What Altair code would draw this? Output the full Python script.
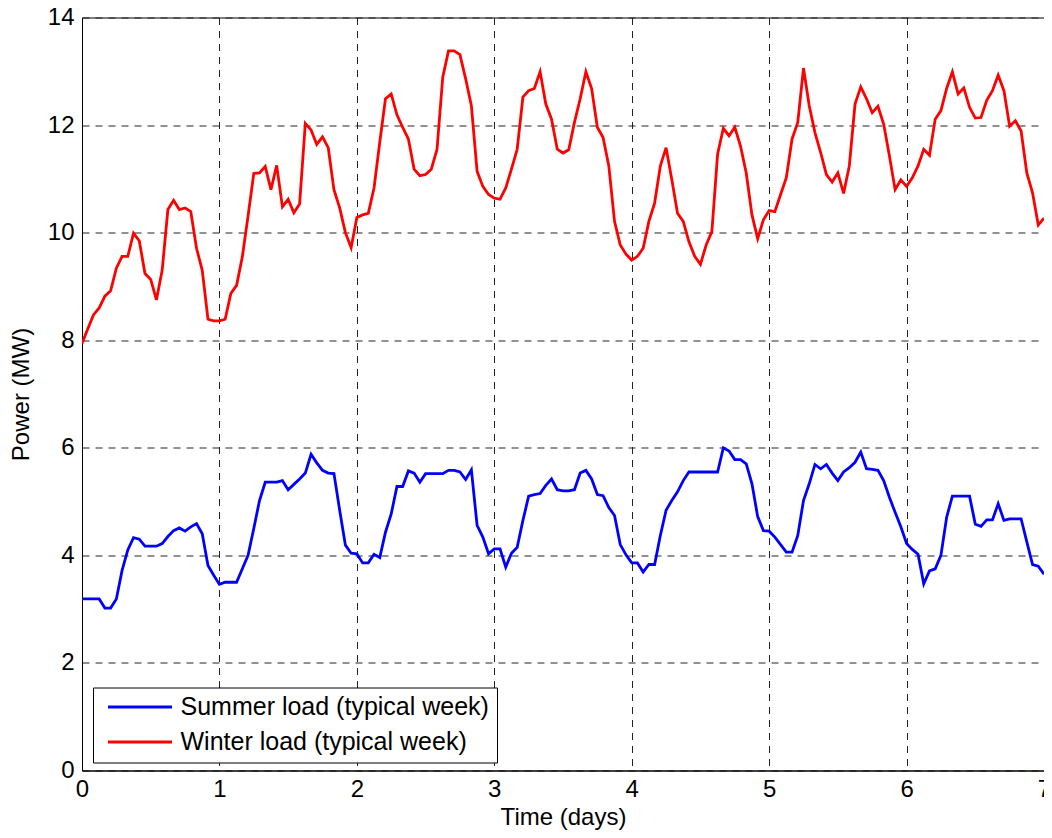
import altair as alt
import pandas as pd

hours = list(range(169))

winter_mw = [
    7.94, 8.21, 8.47, 8.60, 8.82, 8.92, 9.34, 9.56, 9.56, 9.99, 9.85, 9.24,
    9.13, 8.75, 9.30, 10.43, 10.60, 10.43, 10.46, 10.39, 9.71, 9.30, 8.39, 8.36,
    8.36, 8.39, 8.87, 9.02, 9.55, 10.31, 11.10, 11.11, 11.23, 10.80, 11.25, 10.48,
    10.62, 10.37, 10.53, 12.03, 11.91, 11.64, 11.78, 11.58, 10.80, 10.46, 10.00, 9.72,
    10.28, 10.33, 10.36, 10.83, 11.68, 12.49, 12.58, 12.19, 11.96, 11.74, 11.18, 11.06,
    11.08, 11.18, 11.55, 12.89, 13.38, 13.38, 13.31, 12.86, 12.36, 11.14, 10.86, 10.71,
    10.64, 10.62, 10.83, 11.18, 11.55, 12.52, 12.64, 12.68, 12.99, 12.39, 12.11, 11.55,
    11.48, 11.54, 12.05, 12.49, 12.99, 12.68, 11.96, 11.77, 11.24, 10.21, 9.77, 9.60,
    9.49, 9.56, 9.71, 10.21, 10.55, 11.24, 11.58, 10.99, 10.36, 10.21, 9.83, 9.56,
    9.41, 9.77, 10.02, 11.46, 11.94, 11.80, 11.96, 11.61, 11.11, 10.33, 9.89, 10.24,
    10.41, 10.39, 10.71, 11.02, 11.74, 12.05, 13.06, 12.36, 11.86, 11.49, 11.08, 10.94,
    11.11, 10.73, 11.24, 12.39, 12.71, 12.49, 12.23, 12.35, 12.02, 11.43, 10.80, 10.98,
    10.86, 11.02, 11.24, 11.55, 11.44, 12.11, 12.27, 12.68, 12.99, 12.58, 12.69, 12.33,
    12.13, 12.14, 12.46, 12.64, 12.93, 12.64, 11.98, 12.08, 11.89, 11.11, 10.74, 10.14,
    10.27,
]

summer_mw = [
    3.19, 3.19, 3.19, 3.19, 3.02, 3.02, 3.19, 3.72, 4.10, 4.33, 4.30, 4.17,
    4.17, 4.17, 4.22, 4.35, 4.46, 4.51, 4.45, 4.53, 4.59, 4.40, 3.81, 3.63,
    3.46, 3.50, 3.50, 3.50, 3.75, 4.00, 4.50, 5.02, 5.36, 5.36, 5.36, 5.39,
    5.22, 5.32, 5.42, 5.53, 5.88, 5.72, 5.58, 5.53, 5.52, 4.84, 4.19, 4.04,
    4.03, 3.86, 3.86, 4.02, 3.96, 4.43, 4.77, 5.28, 5.28, 5.57, 5.53, 5.36,
    5.52, 5.52, 5.52, 5.52, 5.58, 5.58, 5.55, 5.41, 5.59, 4.56, 4.34, 4.03,
    4.12, 4.12, 3.78, 4.04, 4.15, 4.65, 5.10, 5.13, 5.15, 5.30, 5.42, 5.22,
    5.20, 5.20, 5.22, 5.53, 5.58, 5.42, 5.13, 5.11, 4.89, 4.74, 4.20, 4.01,
    3.86, 3.86, 3.69, 3.83, 3.83, 4.37, 4.84, 5.02, 5.18, 5.39, 5.55, 5.55,
    5.55, 5.55, 5.55, 5.55, 6.00, 5.94, 5.78, 5.78, 5.70, 5.33, 4.72, 4.46,
    4.45, 4.34, 4.20, 4.06, 4.06, 4.37, 5.02, 5.33, 5.69, 5.61, 5.69, 5.53,
    5.39, 5.55, 5.63, 5.73, 5.92, 5.61, 5.60, 5.58, 5.39, 5.08, 4.80, 4.53,
    4.22, 4.11, 4.02, 3.47, 3.71, 3.75, 4.00, 4.71, 5.10, 5.10, 5.10, 5.10,
    4.58, 4.54, 4.66, 4.66, 4.96, 4.65, 4.68, 4.68, 4.68, 4.25, 3.83, 3.80,
    3.65,
]

series_names = ["Summer load (typical week)", "Winter load (typical week)"]
series_colors = ["#0000FF", "#FF0000"]
x_ticks = [0, 1, 2, 3, 4, 5, 6, 7]
y_ticks = [0, 2, 4, 6, 8, 10, 12, 14]

rows = []
for h, v in zip(hours, summer_mw):
    rows.append({"day": h / 24, "power": v, "series": series_names[0], "order": h})
for h, v in zip(hours, winter_mw):
    rows.append({"day": h / 24, "power": v, "series": series_names[1], "order": h})
df = pd.DataFrame(rows)

FONT = "Liberation Sans"

chart = (
    alt.Chart(df)
    .mark_line(strokeWidth=2.8, clip=True)
    .encode(
        x=alt.X(
            "day:Q",
            title="Time (days)",
            scale=alt.Scale(domain=[0, 7], nice=False, zero=False),
            axis=alt.Axis(values=x_ticks, format="d", labelFlush=False,
                          labelPadding=7, titleBaseline="alphabetic",
                          titleY=54),
        ),
        y=alt.Y(
            "power:Q",
            title="Power (MW)",
            scale=alt.Scale(domain=[0, 14], nice=False),
            axis=alt.Axis(values=y_ticks, format="d", labelFlush=False,
                          titlePadding=14, labelPadding=8),
        ),
        color=alt.Color(
            "series:N",
            scale=alt.Scale(domain=series_names, range=series_colors),
            legend=alt.Legend(
                orient="none",
                legendX=11,
                legendY=670,
                title=None,
                symbolType="stroke",
                symbolSize=4096,
                symbolStrokeWidth=3,
                clipHeight=24,
                rowPadding=10,
                padding=7.5,
                symbolOffset=6,
                labelOffset=7,
                labelFontSize=25,
                labelFont=FONT,
                labelColor="black",
                labelLimit=500,
                strokeColor="black",
                fillColor="white",
                cornerRadius=0,
            ),
        ),
        order="order:Q",
    )
    .properties(
        width=962,
        height=753,
        autosize=alt.AutoSizeParams(type="none"),
        padding={"left": 74, "top": 9.5, "right": 0, "bottom": 59.5},
    )
    .configure_view(stroke="black", strokeWidth=1)
    .configure_axis(
        domain=True,
        domainColor="black",
        domainWidth=1,
        ticks=False,
        grid=True,
        gridColor="#222222",
        gridDash=[7, 6],
        gridWidth=1,
        labelFont=FONT,
        labelFontSize=24,
        labelColor="black",
        titleFont=FONT,
        titleFontSize=24,
        titleFontWeight="normal",
        titleColor="black",
    )
)

chart.save("out.html", embed_options={"renderer": "svg", "actions": False})
